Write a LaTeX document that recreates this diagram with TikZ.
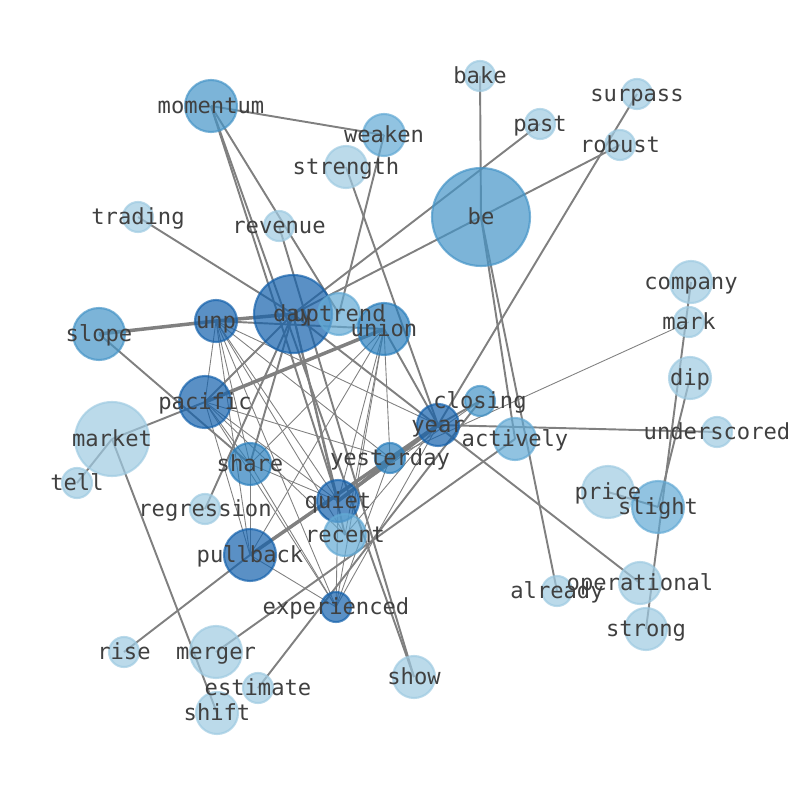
\documentclass[tikz,border=0pt]{standalone}
\usepackage{fontspec}
\newfontfamily\labelfont{DejaVu Sans Mono}
\definecolor{light}{RGB}{158,202,225}
\definecolor{midlight}{RGB}{98,169,212}
\definecolor{mid}{RGB}{69,148,199}
\definecolor{middark}{RGB}{41,126,188}
\definecolor{dark}{RGB}{20,97,172}
\begin{document}
\begin{tikzpicture}[x=0.02cm,y=-0.02cm,
  edge/.style={draw=black!50,line width=1.1pt},
  thinedge/.style={draw=black!50,line width=0.5pt},
  heavyedge/.style={draw=black!50,line width=2pt},
  word/.style={text=black!75,font=\labelfont\fontsize{12.6}{15}\selectfont,inner sep=0pt,
    text height=0.95em,text depth=0.15em}]
\useasboundingbox (0,0) rectangle (794,790);
% Word positions
\foreach \n/\x/\y in {bake/480/76, surpass/637/94, past/540/124, robust/620/145,
  momentum/211/106, weaken/384/135, strength/346/167, be/481/217, trading/138/217,
  revenue/279/226, company/691/282, day/293/314, uptrend/339/314, union/384/329,
  unp/216/321, slope/99/334, mark/689/322, dip/690/378, pacific/205/402,
  closing/480/401, year/438/425, underscored/717/432, actively/515/439,
  market/112/439, yesterday/390/458, share/250/464, tell/77/483, price/608/492,
  slight/658/507, regression/205/509, quiet/338/501, recent/345/535,
  pullback/250/555, already/557/591, operational/640/583, experienced/336/607,
  strong/646/629, rise/124/652, merger/216/652, estimate/258/688, show/414/677,
  shift/217/713}
  \coordinate (\n) at (\x,\y);
% Co-occurrence links
\foreach \a/\b in {momentum/weaken, momentum/uptrend, momentum/show, momentum/quiet,
  revenue/show, be/bake, be/actively, be/already, past/day, robust/day, surpass/year,
  weaken/uptrend, strength/year, trading/day, slope/share, market/pacific, market/tell,
  market/shift, rise/pullback, merger/actively, estimate/closing, day/operational,
  year/underscored, company/strong, dip/slight, price/slight, union/year, closing/year,
  day/pacific, day/share, day/quiet, day/recent, day/regression, unp/union, yesterday/year}
  \draw[edge] (\a) -- (\b);
\foreach \a/\b in {slope/unp, unp/day, pacific/union, pullback/year, quiet/year}
  \draw[heavyedge] (\a) -- (\b);
\foreach \a/\b in {unp/pacific, unp/share, unp/pullback, unp/quiet, unp/recent,
  unp/experienced, unp/yesterday, unp/year, union/pullback, union/quiet, union/recent,
  union/experienced, union/yesterday, union/share, pacific/share, pacific/quiet,
  pacific/experienced, pacific/yesterday, pacific/recent, pacific/pullback, share/quiet,
  share/experienced, share/pullback, quiet/experienced, quiet/yesterday,
  pullback/experienced, yesterday/experienced, year/experienced, year/recent,
  closing/quiet, mark/yesterday}
  \draw[thinedge] (\a) -- (\b);
% Bubbles
\foreach \n/\r/\c in {bake/15/light, surpass/15/light, past/15/light, robust/15/light,
  momentum/26/mid, weaken/21/midlight, strength/21/light, be/49/mid, trading/15/light,
  revenue/15/light, company/21/light, day/39/dark, uptrend/21/midlight, union/26/middark,
  unp/21/dark, slope/26/mid, mark/15/light, dip/21/light, pacific/26/dark,
  closing/15/mid, year/21/dark, underscored/15/light, actively/21/midlight,
  market/37/light, yesterday/15/middark, share/21/middark, tell/15/light,
  price/26/light, slight/26/midlight, regression/15/light, quiet/21/dark,
  recent/21/midlight, pullback/26/dark, already/15/light, operational/21/light,
  experienced/15/dark, strong/21/light, rise/15/light, merger/26/light,
  estimate/15/light, show/21/light, shift/21/light}
  \filldraw[fill=\c,draw=\c,fill opacity=0.7,draw opacity=0.7,line width=1.2pt] (\n) circle (\r);
% Labels
\foreach \n in {bake, surpass, past, robust, momentum, weaken, strength, be, trading,
  revenue, company, day, uptrend, union, unp, slope, mark, dip, pacific, closing, year,
  underscored, actively, market, yesterday, share, tell, price, slight, regression,
  quiet, recent, pullback, already, operational, experienced, strong, rise, merger,
  estimate, show, shift}
  \node[word] (\n-label) at (\n) {\n};
\end{tikzpicture}
\end{document}
